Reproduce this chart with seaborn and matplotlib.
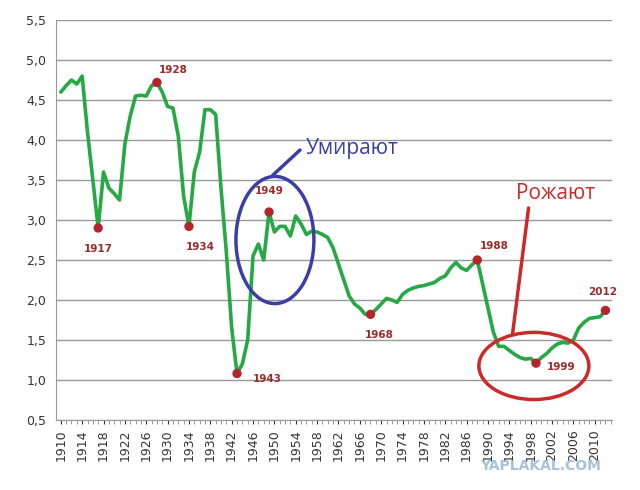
import matplotlib
matplotlib.use("Agg")
import matplotlib.pyplot as plt
import seaborn as sns
import pandas as pd
from matplotlib.patches import Ellipse
from matplotlib.ticker import FuncFormatter, MultipleLocator, FixedLocator

years = list(range(1910, 2013))
tfr = [4.6, 4.68, 4.75, 4.7, 4.8, 4.1, 3.5, 2.9, 3.6, 3.4,
       3.33, 3.25, 3.95, 4.3, 4.55, 4.56, 4.55, 4.68, 4.72, 4.6,
       4.42, 4.4, 4.05, 3.3, 2.92, 3.6, 3.85, 4.38, 4.38, 4.32,
       3.4, 2.6, 1.65, 1.08, 1.2, 1.5, 2.55, 2.7, 2.5, 3.1,
       2.85, 2.92, 2.92, 2.8, 3.05, 2.95, 2.82, 2.86, 2.85, 2.82,
       2.78, 2.65, 2.45, 2.25, 2.05, 1.95, 1.9, 1.82, 1.82, 1.88,
       1.95, 2.02, 2.0, 1.97, 2.07, 2.12, 2.15, 2.17, 2.18, 2.2,
       2.22, 2.27, 2.3, 2.4, 2.47, 2.4, 2.37, 2.44, 2.5, 2.2,
       1.9, 1.6, 1.42, 1.42, 1.37, 1.32, 1.28, 1.26, 1.27, 1.21,
       1.28, 1.33, 1.4, 1.45, 1.47, 1.46, 1.5, 1.65, 1.72, 1.77,
       1.78, 1.79, 1.87]
marked_years = [1917, 1928, 1934, 1943, 1949, 1968, 1988, 1999, 2012]
label_offsets = [(0, -15), (12, 9), (8, -15), (22, -4), (0, 15), (6, -15), (12, 10), (18, -3), (-2, 13)]
tick_years = list(range(1910, 2013, 4))

df = pd.DataFrame({"year": years, "tfr": tfr})
mk = df[df.year.isin(marked_years)]

sns.set_style("white")
plt.rcParams['font.family'] = ['DejaVu Sans']
fig = plt.figure(figsize=(6.4, 4.9), dpi=100)
ax = fig.add_axes([0.0875, 0.143, 0.8685, 0.816])
sns.lineplot(data=df, x="year", y="tfr", ax=ax, color="#26a844", linewidth=2.6)
sns.scatterplot(data=mk, x="year", y="tfr", ax=ax, color="#b3242c", s=45, edgecolor="none", zorder=5)
for (y, v), off in zip(zip(mk.year, mk.tfr), label_offsets):
    ax.annotate(str(y), (y, v), xytext=off, textcoords="offset points",
                color="#9b2b2b", fontsize=7.5, fontweight="bold", ha="center", va="center")

ax.set_xlim(1909.1, 2013.2)
ax.set_ylim(0.5, 5.5)
ax.yaxis.set_major_locator(MultipleLocator(0.5))
ax.yaxis.set_major_formatter(FuncFormatter(lambda v, p: f"{v:.1f}".replace(".", ",")))
ax.xaxis.set_major_locator(FixedLocator(tick_years))
ax.xaxis.set_minor_locator(MultipleLocator(1))
ax.xaxis.set_major_formatter(FuncFormatter(lambda v, p: f"{int(round(v))}"))
ax.tick_params(axis="x", which="both", direction="out", length=3, color="#888888", bottom=True, rotation=90, labelsize=9, pad=4)
ax.tick_params(axis="y", labelsize=9, colors="#333333")
ax.tick_params(axis="x", colors="#333333")
ax.grid(axis="y", color="#999999", linewidth=1)
ax.grid(axis="x", visible=False)
for s in ["top", "right"]:
    ax.spines[s].set_visible(False)
for s in ["left", "bottom"]:
    ax.spines[s].set_color("#999999")
ax.set_xlabel("")
ax.set_ylabel("")

ax.add_patch(Ellipse((1950.1, 2.75), 14.6, 1.59, fill=False, edgecolor="#3a3fa6", linewidth=2.5, zorder=6))
ax.plot([1949.7, 1954.8], [3.56, 3.875], color="#3a3fa6", linewidth=2.5)
ax.text(1955.9, 3.9, "Умирают", color="#3a3fa6", fontsize=15, family="Open Sans", va="center")
ax.add_patch(Ellipse((1998.6, 1.175), 20.6, 0.84, fill=False, edgecolor="#cc2a2a", linewidth=2.5, zorder=6))
ax.plot([1994.6, 1997.6], [1.575, 3.15], color="#cc2a2a", linewidth=2.5)
ax.text(2002.7, 3.33, "Рожают", color="#cc2a2a", fontsize=15, family="Open Sans", ha="center", va="center")

fig.text(0.845, 0.04, "YAPLAKAL.COM", color="#8fb4d6", fontsize=10, fontweight="bold", ha="center", alpha=0.8)
fig.savefig("out.png", dpi=100)
